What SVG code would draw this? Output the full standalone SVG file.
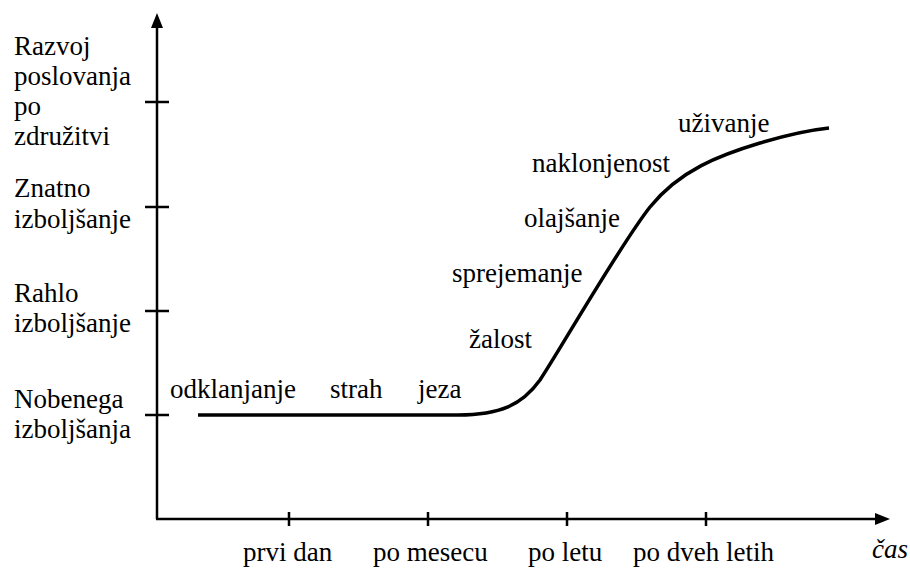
<svg xmlns="http://www.w3.org/2000/svg" width="910" height="569" viewBox="0 0 910 569" font-family="Liberation Serif, serif" font-size="27">
<style>
.ax { stroke: #000; stroke-width: 2.5; fill: none; }
.curve { stroke: #000; stroke-width: 3.5; fill: none; stroke-linejoin: round; }
</style>
<rect width="910" height="569" fill="#fff"/>
<g id="axes">
  <line class="ax" x1="157" y1="519" x2="157" y2="26"/>
  <polygon points="157,13 151,28 163,28" fill="#000"/>
  <line class="ax" x1="156" y1="519" x2="877" y2="519"/>
  <polygon points="890,519 875,513 875,525" fill="#000"/>
  <line class="ax" x1="145" y1="102" x2="169" y2="102"/>
  <line class="ax" x1="145" y1="207" x2="169" y2="207"/>
  <line class="ax" x1="145" y1="311" x2="169" y2="311"/>
  <line class="ax" x1="145" y1="415" x2="169" y2="415"/>
  <line class="ax" x1="289" y1="512" x2="289" y2="526"/>
  <line class="ax" x1="428" y1="512" x2="428" y2="526"/>
  <line class="ax" x1="567" y1="512" x2="567" y2="526"/>
  <line class="ax" x1="706" y1="512" x2="706" y2="526"/>
</g>
<g id="y-labels" font-family="Liberation Serif, serif">
  <text x="14" y="55">Razvoj</text>
  <text x="14" y="85">poslovanja</text>
  <text x="14" y="115">po</text>
  <text x="14" y="145">združitvi</text>
  <text x="14" y="197">Znatno</text>
  <text x="14" y="228">izboljšanje</text>
  <text x="14" y="302">Rahlo</text>
  <text x="14" y="332">izboljšanje</text>
  <text x="14" y="408">Nobenega</text>
  <text x="14" y="438">izboljšanja</text>
</g>
<g id="x-labels" font-family="Liberation Serif, serif">
  <text x="243" y="561">prvi dan</text>
  <text x="373" y="561">po mesecu</text>
  <text x="528" y="561">po letu</text>
  <text x="633" y="561">po dveh letih</text>
  <text x="872" y="558" font-style="italic">čas</text>
</g>
<g id="curve">
  <path class="curve" d="M198,415 H458 C500,415 522,405 540,380 C560,350 620,245 650,207 C680,170 720,155 760,143 C790,134 810,130 829,128"/>
</g>
<g id="stages" font-family="Liberation Serif, serif">
  <text x="170" y="398">odklanjanje</text>
  <text x="330" y="398">strah</text>
  <text x="418" y="398">jeza</text>
  <text x="469" y="348">žalost</text>
  <text x="452" y="282">sprejemanje</text>
  <text x="524" y="227">olajšanje</text>
  <text x="532" y="172">naklonjenost</text>
  <text x="678" y="132">uživanje</text>
</g>
</svg>
